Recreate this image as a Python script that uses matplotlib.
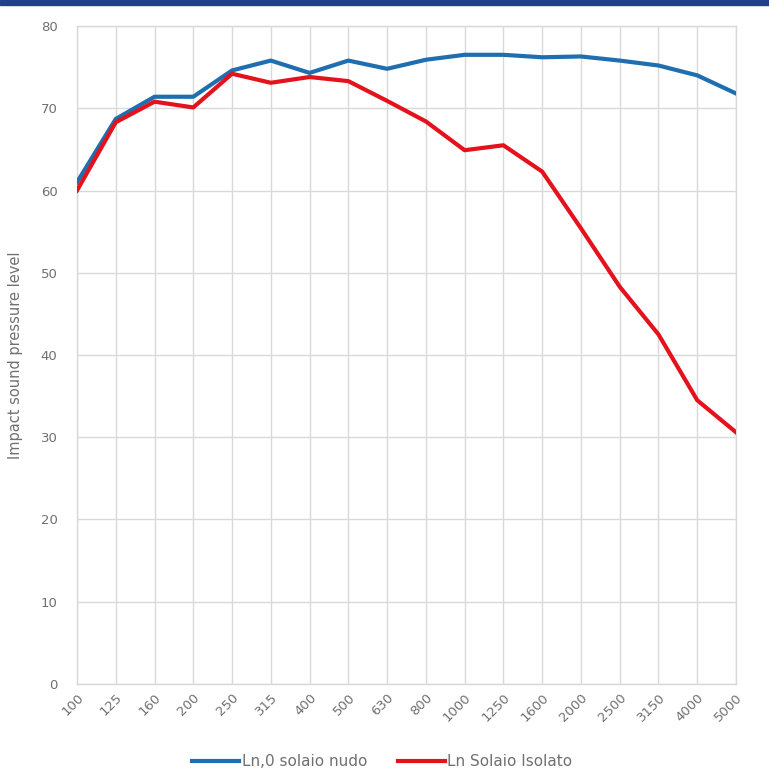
import matplotlib
matplotlib.use("Agg")
import matplotlib.pyplot as plt
from matplotlib.patches import Rectangle

plt.rcParams['font.family'] = ['DejaVu Sans']

frequencies = ['100', '125', '160', '200', '250', '315', '400', '500', '630', '800',
               '1000', '1250', '1600', '2000', '2500', '3150', '4000', '5000']
ln0_nudo = [61.0, 68.7, 71.4, 71.4, 74.6, 75.8, 74.3, 75.8, 74.8, 75.9,
            76.5, 76.5, 76.2, 76.3, 75.8, 75.2, 74.0, 71.8]
ln_isolato = [60.0, 68.3, 70.8, 70.1, 74.2, 73.1, 73.8, 73.3, 70.9, 68.4,
              64.9, 65.5, 62.3, 55.4, 48.3, 42.5, 34.5, 30.6]
yticks = [0, 10, 20, 30, 40, 50, 60, 70, 80]

text_grey = '#707070'

fig = plt.figure(figsize=(7.69, 7.84), dpi=100)
fig.patches.append(Rectangle((0, 0.9935), 1, 0.0065, transform=fig.transFigure,
                             color='#243E8E', zorder=5))

ax = fig.add_axes([0.1001, 0.1276, 0.857, 0.8392])
x = range(len(frequencies))
ax.plot(x, ln0_nudo, color='#1F6FB0', lw=3.0, label='Ln,0 solaio nudo',
        solid_joinstyle='round', zorder=3)
ax.plot(x, ln_isolato, color='#E3121C', lw=3.0, label='Ln Solaio Isolato',
        solid_joinstyle='round', zorder=4)

ax.set_xlim(0, len(frequencies) - 1)
ax.set_ylim(0, 80)
ax.set_yticks(yticks)
ax.set_xticks(list(x))
ax.set_xticklabels(frequencies, rotation=45, ha='right', va='top',
                   rotation_mode='anchor')
ax.tick_params(axis='both', length=0, labelsize=9.5, colors=text_grey)
ax.tick_params(axis='y', pad=14)
ax.tick_params(axis='x', pad=5)
ax.grid(True, color='#D9D9D9', lw=1.0)
ax.set_axisbelow(True)
for s in ax.spines.values():
    s.set_color('#D9D9D9')
    s.set_linewidth(1.0)

ax.set_ylabel('Impact sound pressure level', fontsize=10.5, color=text_grey)
ax.yaxis.set_label_coords(-0.082, 0.5)

fig.legend(*ax.get_legend_handles_labels(), loc='center',
           bbox_to_anchor=(0.497, 1 - 762 / 784), bbox_transform=fig.transFigure,
           ncol=2, frameon=False, fontsize=11, labelcolor=text_grey,
           handlelength=3.1, handletextpad=0.15, columnspacing=2.0)

fig.savefig('out.png', dpi=100, facecolor='white')
